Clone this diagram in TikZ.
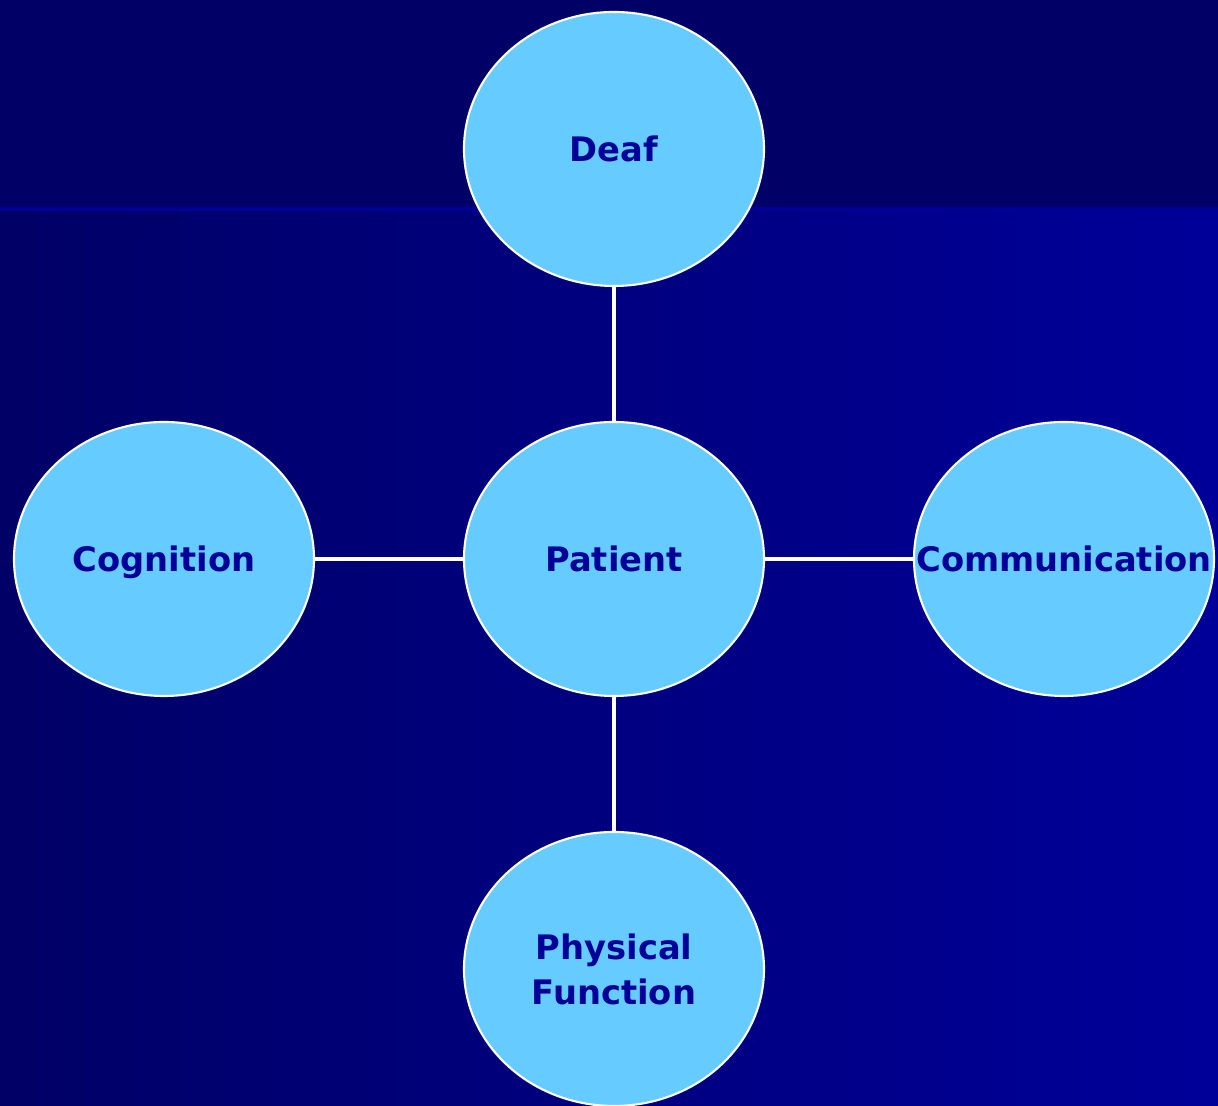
\documentclass[tikz,border=0pt]{standalone}
\usepackage{fontspec}
\setmainfont{DejaVu Sans}
\usepackage{tikz}
\usetikzlibrary{positioning}
\usetikzlibrary{shapes.geometric}
\definecolor{navy}{HTML}{000066}
\definecolor{deepblue}{HTML}{000099}
\definecolor{sky}{HTML}{66CCFF}
\tikzset{
    patient map/.style={
            node distance=4.1cm,
            topic/.style={ellipse, draw=white, line width=0.6pt, fill=sky,
                    minimum width=3cm, minimum height=2.74cm, inner sep=0pt,
                    text=deepblue, align=center,
                    font=\fontsize{9.6pt}{12.8pt}\selectfont\bfseries},
            link/.style={draw=white, line width=1.3pt}
        }
    }

\begin{document}
\begin{tikzpicture}[patient map]
    \useasboundingbox (0,0) rectangle (12.18,11.06);
    \shade [left color=navy, right color=deepblue] (0,0) rectangle (12.18,8.97);
    \fill [navy] (0,8.97) rectangle (12.18,11.06);
    \draw [deepblue, line width=0.9pt] (0,8.97) -- (12.18,8.97);

    \node [topic] at (6.14,5.47) (P) {Patient};
    \node [topic, above of=P] (D) {Deaf};
    \node [topic, below of=P] (F) {Physical\\Function};
    \node [topic, left of=P, node distance=4.5cm, text depth=0pt] (C) {Cognition};
    \node [topic, right of=P, node distance=4.5cm] (M) {\makebox[0pt]{Communication}};

    \draw [link] (P) -- (D);
    \draw [link] (P) -- (F);
    \draw [link] (P) -- (C);
    \draw [link] (P) -- (M);
\end{tikzpicture}
\end{document}
